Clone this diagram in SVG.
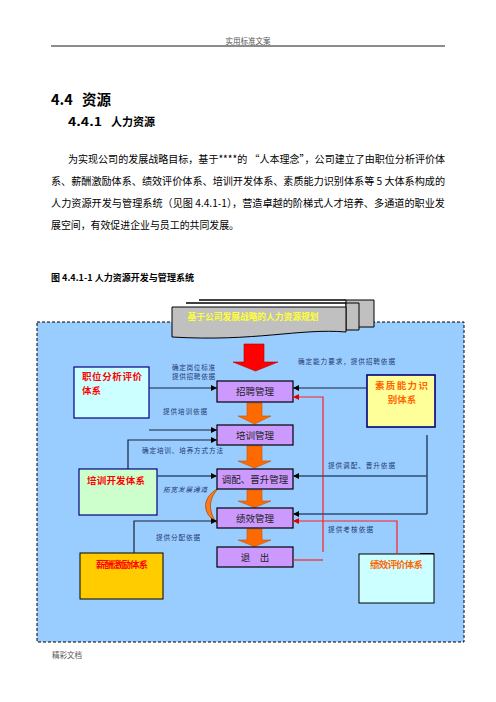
<svg xmlns="http://www.w3.org/2000/svg" width="496" height="702" viewBox="0 0 496 702">
<defs>
<style>
text{font-family:"Noto Sans CJK SC","Liberation Sans",sans-serif;}
.hd{font-size:7.5px;fill:#555;}
.h1{font-size:14.5px;font-weight:bold;fill:#000;}
.h2{font-size:11.5px;font-weight:bold;fill:#000;}
.body{font-size:10.5px;fill:#000;}
.cap{font-size:8.7px;font-weight:bold;fill:#000;}
.box{fill:#cc99ff;stroke:#000;stroke-width:1.2;}
.bt{font-size:9.5px;fill:#222;text-anchor:middle;}
.lt{font-size:6.6px;fill:#1f3a70;}
.red{font-size:9.5px;font-weight:bold;fill:#ff0000;}
.org{font-size:9.5px;font-weight:bold;fill:#ff6600;text-anchor:middle;}
.ln{fill:none;stroke:#1a2236;stroke-width:1.2;}
.st{fill:none;stroke:#2f4f73;stroke-width:1.6;}
.rl{fill:none;stroke:#ff2020;stroke-width:1.2;}
.oa{fill:#ff6a00;stroke:#c85000;stroke-width:0.6;}
.ban{fill:#c0c0c0;stroke:#000;stroke-width:1;}
</style>
<marker id="ah" viewBox="0 0 10 10" refX="10" refY="5" markerWidth="7" markerHeight="6" markerUnits="userSpaceOnUse" orient="auto"><path d="M0,0 L10,5 L0,10 z" fill="#000"/></marker>
<marker id="ar" viewBox="0 0 10 10" refX="10" refY="5" markerWidth="7" markerHeight="6" markerUnits="userSpaceOnUse" orient="auto"><path d="M0,0 L10,5 L0,10 z" fill="#e00000"/></marker>
</defs>

<g id="header">
<text class="hd" x="248" y="44" text-anchor="middle">实用标准文案</text>
<line x1="51" y1="46" x2="445" y2="46" stroke="#000" stroke-width="0.9"/>
</g>

<g id="headings">
<text class="h1" x="51" y="105">4.4</text>
<text class="h1" x="82" y="105">资源</text>
<text class="h2" x="68" y="126" textLength="34" lengthAdjust="spacingAndGlyphs">4.4.1</text>
<text class="h2" x="111" y="126" textLength="44" lengthAdjust="spacingAndGlyphs">人力资源</text>
</g>

<g id="body">
<text class="body" x="68" y="163" textLength="377" lengthAdjust="spacingAndGlyphs">为实现公司的发展战略目标，基于****的 “人本理念”，公司建立了由职位分析评价体</text>
<text class="body" x="51" y="185" textLength="394" lengthAdjust="spacingAndGlyphs">系、薪酬激励体系、绩效评价体系、培训开发体系、素质能力识别体系等 5 大体系构成的</text>
<text class="body" x="51" y="207" textLength="394" lengthAdjust="spacingAndGlyphs">人力资源开发与管理系统（见图 4.4.1-1），营造卓越的阶梯式人才培养、多通道的职业发</text>
<text class="body" x="51" y="229" textLength="188" lengthAdjust="spacingAndGlyphs">展空间，有效促进企业与员工的共同发展。</text>
</g>

<g id="caption">
<text class="cap" x="51" y="281" textLength="143" lengthAdjust="spacingAndGlyphs">图 4.4.1-1  人力资源开发与管理系统</text>
</g>

<g id="background">
<rect x="37" y="322" width="427" height="320" fill="#99ccff" stroke="#000" stroke-width="1" stroke-dasharray="3,2"/>
</g>

<g id="banner">
<path class="ban" d="M199,300 H374 V327 H346 V300 Z"/>
<path class="ban" d="M186,303 H359 V330 H346 V303 Z"/>
<path class="ban" d="M172,307 H346 V332 C300,328 255,342 172,337 Z"/>
<text x="253" y="319.5" text-anchor="middle" font-size="8.8" font-weight="bold" fill="#ffff33" textLength="131" lengthAdjust="spacingAndGlyphs">基于公司发展战略的人力资源规划</text>
</g>

<g id="red-arrow">
<polygon points="244,344 264,344 264,362 278,362 255.5,371 233,362 244,362" fill="#ff0000" stroke="#b00000" stroke-width="0.6"/>
</g>

<g id="flow-arrows">
<polygon class="oa" points="247,403 262,403 262,416 271,416 254.5,424 238,416 247,416"/>
<polygon class="oa" points="247,446 262,446 262,461 271,461 254.5,468 238,461 247,461"/>
<polygon class="oa" points="247,490 262,490 262,501 271,501 254.5,507.5 238,501 247,501"/>
<polygon class="oa" points="247,529 262,529 262,540 271,540 254.5,546.5 238,540 247,540"/>
<path d="M219,488 C203,496 200,512 217,523 C208,512 208,498 219,488 Z" fill="#ff7a1a" stroke="#a84a10" stroke-width="0.8"/>
</g>

<g id="zhaopin">
<rect class="box" x="217" y="381" width="76" height="21"/>
<text class="bt" x="255" y="395">招聘管理</text>
</g>
<g id="peixun">
<rect class="box" x="217" y="425" width="76" height="20"/>
<text class="bt" x="255" y="438.5">培训管理</text>
</g>
<g id="tiaopei">
<rect class="box" x="217" y="469" width="76" height="20"/>
<text class="bt" x="255" y="482.5">调配、晋升管理</text>
</g>
<g id="jixiao">
<rect class="box" x="217" y="508" width="76" height="20"/>
<text class="bt" x="255" y="521.5">绩效管理</text>
</g>
<g id="tuichu">
<rect class="box" x="217" y="547" width="76" height="20"/>
<text class="bt" x="255" y="560.5">退　出</text>
</g>

<g id="zhiwei">
<rect x="74" y="367" width="75" height="51" fill="#ccffff" stroke="#000080" stroke-width="1.2"/>
<text class="red" x="82" y="380" textLength="60" lengthAdjust="spacing">职位分析评价</text>
<text class="red" x="82" y="394">体系</text>
</g>
<g id="peixunkaifa">
<rect x="79" y="469" width="78" height="46" fill="#ccffcc" stroke="#000080" stroke-width="1.2"/>
<text class="red" x="116" y="483.5" text-anchor="middle" textLength="58" lengthAdjust="spacing">培训开发体系</text>
</g>
<g id="xinchou">
<rect x="80" y="553" width="83" height="46" fill="#ffcc00" stroke="#000" stroke-width="1"/>
<text class="red" x="122" y="567.5" text-anchor="middle" font-size="9" textLength="52" lengthAdjust="spacing">薪酬激励体系</text>
</g>
<g id="suzhi">
<rect x="367" y="375" width="68" height="52" fill="#ffff99" stroke="#000080" stroke-width="1.6"/>
<text class="org" x="401.5" y="388.5" textLength="53" lengthAdjust="spacing">素质能力识</text>
<text class="org" x="402" y="402.5">别体系</text>
</g>
<g id="jixiaopingjia">
<line x1="420" y1="553.5" x2="434" y2="553.5" stroke="#000" stroke-width="1"/>
<rect x="359" y="554" width="75" height="49" fill="#ccffff" stroke="#000" stroke-width="1"/>
<text class="org" x="396.5" y="567.5" font-size="9" textLength="53" lengthAdjust="spacing">绩效评价体系</text>
</g>

<g id="connectors">
<path class="ln" d="M149,388 H217" marker-end="url(#ah)"/>
<path class="ln" d="M149,430 H217" marker-end="url(#ah)"/>
<path class="ln" d="M128,469 V440 H217" marker-end="url(#ah)"/>
<path class="st" d="M157,476 H217" marker-end="url(#ah)"/>
<path class="ln" d="M134,553 V521 H217" marker-end="url(#ah)"/>
<path class="ln" d="M367,388 H293" marker-end="url(#ah)"/>
<path class="rl" d="M293,560 H323"/>
<path class="rl" d="M323,552 V397 H293" marker-end="url(#ar)"/>
<path class="rl" d="M397,554 V521 H293" marker-end="url(#ar)"/>
<path class="st" d="M427,435 V514"/>
<path class="st" d="M427,476 H293" marker-end="url(#ah)"/>
<path class="st" d="M427,514 H293" marker-end="url(#ah)"/>
</g>

<g id="labels">
<text class="lt" x="172" y="369.5" textLength="43" lengthAdjust="spacing">确定岗位标准</text>
<text class="lt" x="172" y="378.5" textLength="43" lengthAdjust="spacing">提供招聘依据</text>
<text class="lt" x="163" y="413.5" textLength="44" lengthAdjust="spacing">提供培训依据</text>
<text class="lt" x="142" y="452.5" textLength="81" lengthAdjust="spacing">确定培训、培养方式方法</text>
<text class="lt" x="163" y="491.5" font-style="italic" font-size="6" textLength="44" lengthAdjust="spacing">拓宽发展通道</text>
<text class="lt" x="156" y="539.5" textLength="44" lengthAdjust="spacing">提供分配依据</text>
<text class="lt" x="298" y="363.5" textLength="97" lengthAdjust="spacing">确定能力要求，提供招聘依据</text>
<text class="lt" x="328" y="467.5" textLength="67" lengthAdjust="spacing">提供调配、晋升依据</text>
<text class="lt" x="328" y="531.5" textLength="45" lengthAdjust="spacing">提供考核依据</text>
</g>

<g id="footer">
<text class="hd" x="52" y="658">精彩文档</text>
</g>
</svg>
